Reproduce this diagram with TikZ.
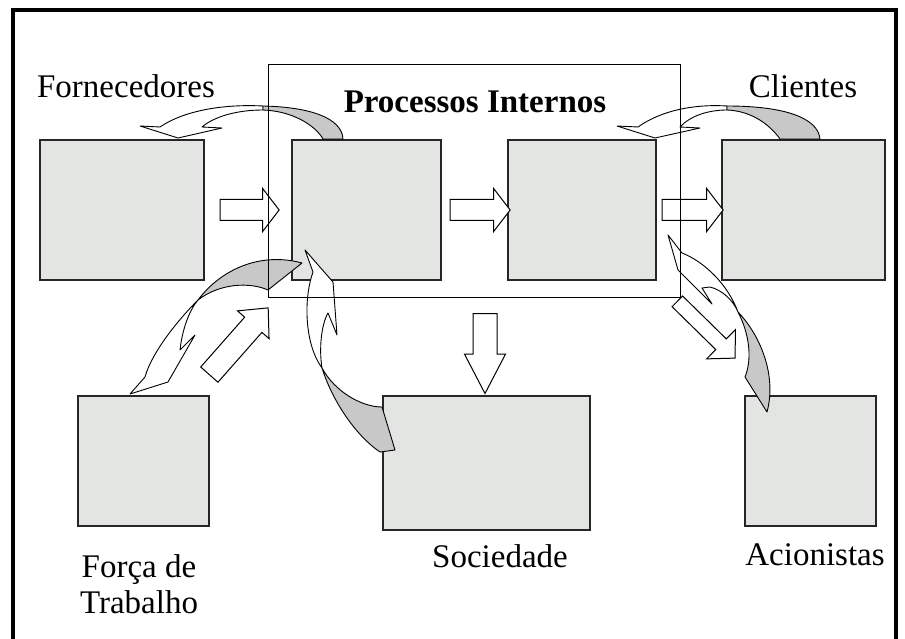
\documentclass[tikz,border=0pt]{standalone}
\usepackage{fontspec}
\setmainfont{Liberation Serif}
\usepackage{tikz}
\usetikzlibrary{shapes.arrows}
\usetikzlibrary{calc}
\definecolor{boxgray}{RGB}{226,229,226}
\definecolor{twistgray}{RGB}{200,200,200}
\tikzstyle{block} = [rectangle, draw=black!85, fill=boxgray, line width=1.3pt, inner sep=0pt]
\tikzstyle{lbl} = [font=\fontsize{33}{36}\selectfont, inner sep=0pt, anchor=base]
\tikzstyle{fatarrow} = [single arrow, draw=black, fill=white, line width=1pt, inner xsep=0pt, inner ysep=10pt, minimum width=0pt, single arrow head extend=11pt, single arrow tip angle=105, minimum height=59pt, anchor=tail]
\tikzstyle{ribbon} = [draw=black, line width=0.9pt, fill=white, line join=round]
\tikzstyle{twist} = [draw=black, line width=0.9pt, fill=twistgray, line join=round]

\begin{document}
\begin{tikzpicture}[x=1pt, y=-1pt]
\useasboundingbox (0,0) rectangle (905,639);

% outer frame, open at the bottom
\draw [line width=4pt] (13,660) -- (13,10) -- (896,10) -- (896,660);

% boxes
\node (forn) [block, minimum width=164, minimum height=140] at (122,210) {};
\node (proc1) [block, minimum width=149, minimum height=140] at (366.5,210) {};
\node (proc2) [block, minimum width=148, minimum height=140] at (582,210) {};
\node (cli) [block, minimum width=163, minimum height=140] at (803.5,210) {};
\node (forca) [block, minimum width=131, minimum height=130] at (143.5,461) {};
\node (soc) [block, minimum width=207, minimum height=134] at (486.5,463) {};
\node (acio) [block, minimum width=131, minimum height=130] at (810.5,461) {};

% labels
\node (tforn) [lbl] at (126,98) {Fornecedores};
\node (tcli) [lbl] at (803,98) {Clientes};
\node (tproc) [lbl, font=\fontsize{33}{36}\selectfont\bfseries] at (475,113) {Processos Internos};
\node (tforca) [lbl, align=center] at (139,613) {Força de\\Trabalho};
\node (tsoc) [lbl] at (500,567) {Sociedade};
\node (tacio) [lbl] at (815,565) {Acionistas};

% curved arrows back to the suppliers and clients
\draw [ribbon] (140,126) -- (160,127) .. controls (185,110) and (225,104) .. (263,106) -- (263,110) .. controls (238,110) and (215,116) .. (202,127) -- (222,128) -- (178,138) -- cycle;
\draw [twist] (263,106) .. controls (310,107) and (342,118) .. (343,139) -- (323,139) .. controls (315,125) and (292,111) .. (263,110) -- cycle;
\draw [ribbon] (617,126) -- (638,127) .. controls (662,110) and (695,104) .. (727,106) -- (727,110) .. controls (708,110) and (690,116) .. (680,127) -- (700,128) -- (655,138) -- cycle;
\draw [twist] (727,106) .. controls (785,106) and (818,118) .. (820,139) -- (780,139) .. controls (770,125) and (752,111) .. (727,110) -- cycle;

% curved arrows to the work force and society
\draw [twist] (198,300) .. controls (222,268) and (262,252) .. (302,263) -- (268,290) .. controls (250,282) and (220,283) .. (198,300) -- cycle;
\draw [ribbon] (198,300) .. controls (178,320) and (152,352) .. (145,377) -- (130,394) -- (168,382) -- (195,335) -- (180,350) .. controls (182,332) and (188,312) .. (198,300) -- cycle;
\draw [twist] (322,368) .. controls (332,400) and (355,435) .. (380,452) -- (395,450) -- (382,407) .. controls (362,407) and (335,392) .. (322,368) -- cycle;
\draw [ribbon] (305,250) -- (313,272) .. controls (303,300) and (305,345) .. (322,368) .. controls (319,350) and (321,325) .. (328,313) -- (337,335) -- (333,282) -- cycle;

% curved arrow to the shareholders
\draw [twist] (738,312) .. controls (760,335) and (777,375) .. (767,412) -- (745,377) .. controls (752,360) and (750,335) .. (738,312) -- cycle;
\draw [ribbon] (668,235) -- (682,253) .. controls (705,262) and (728,285) .. (738,312) .. controls (733,300) and (722,290) .. (710,287) -- (702,288) -- (712,304) -- (678,270) -- cycle;

% block arrows
\node (flow1) [fatarrow] at ($(forn.east)+(15,0)$) {};
\node (flow2) [fatarrow, minimum height=60pt] at ($(proc1.east)+(8,0)$) {};
\node (flow3) [fatarrow, minimum height=61pt] at ($(proc2.east)+(5,0)$) {};
\node (flowsoc) [fatarrow, rotate=-90, inner ysep=11.5pt, single arrow head extend=8.5pt, single arrow tip angle=55, minimum height=80pt] at (485,313) {};
\node (flowforca) [fatarrow, rotate=48.6, inner ysep=11pt, single arrow head extend=9.5pt, single arrow tip angle=86, minimum height=89pt] at (209,375) {};
\node (flowacio) [fatarrow, rotate=-44.5, inner ysep=7pt, single arrow head extend=13pt, single arrow tip angle=92, minimum height=81pt] at (677,301) {};

% internal processes frame
\node (interno) [draw=black, line width=1pt, minimum width=412, minimum height=232] at (474,181) {};

\end{tikzpicture}
\end{document}
